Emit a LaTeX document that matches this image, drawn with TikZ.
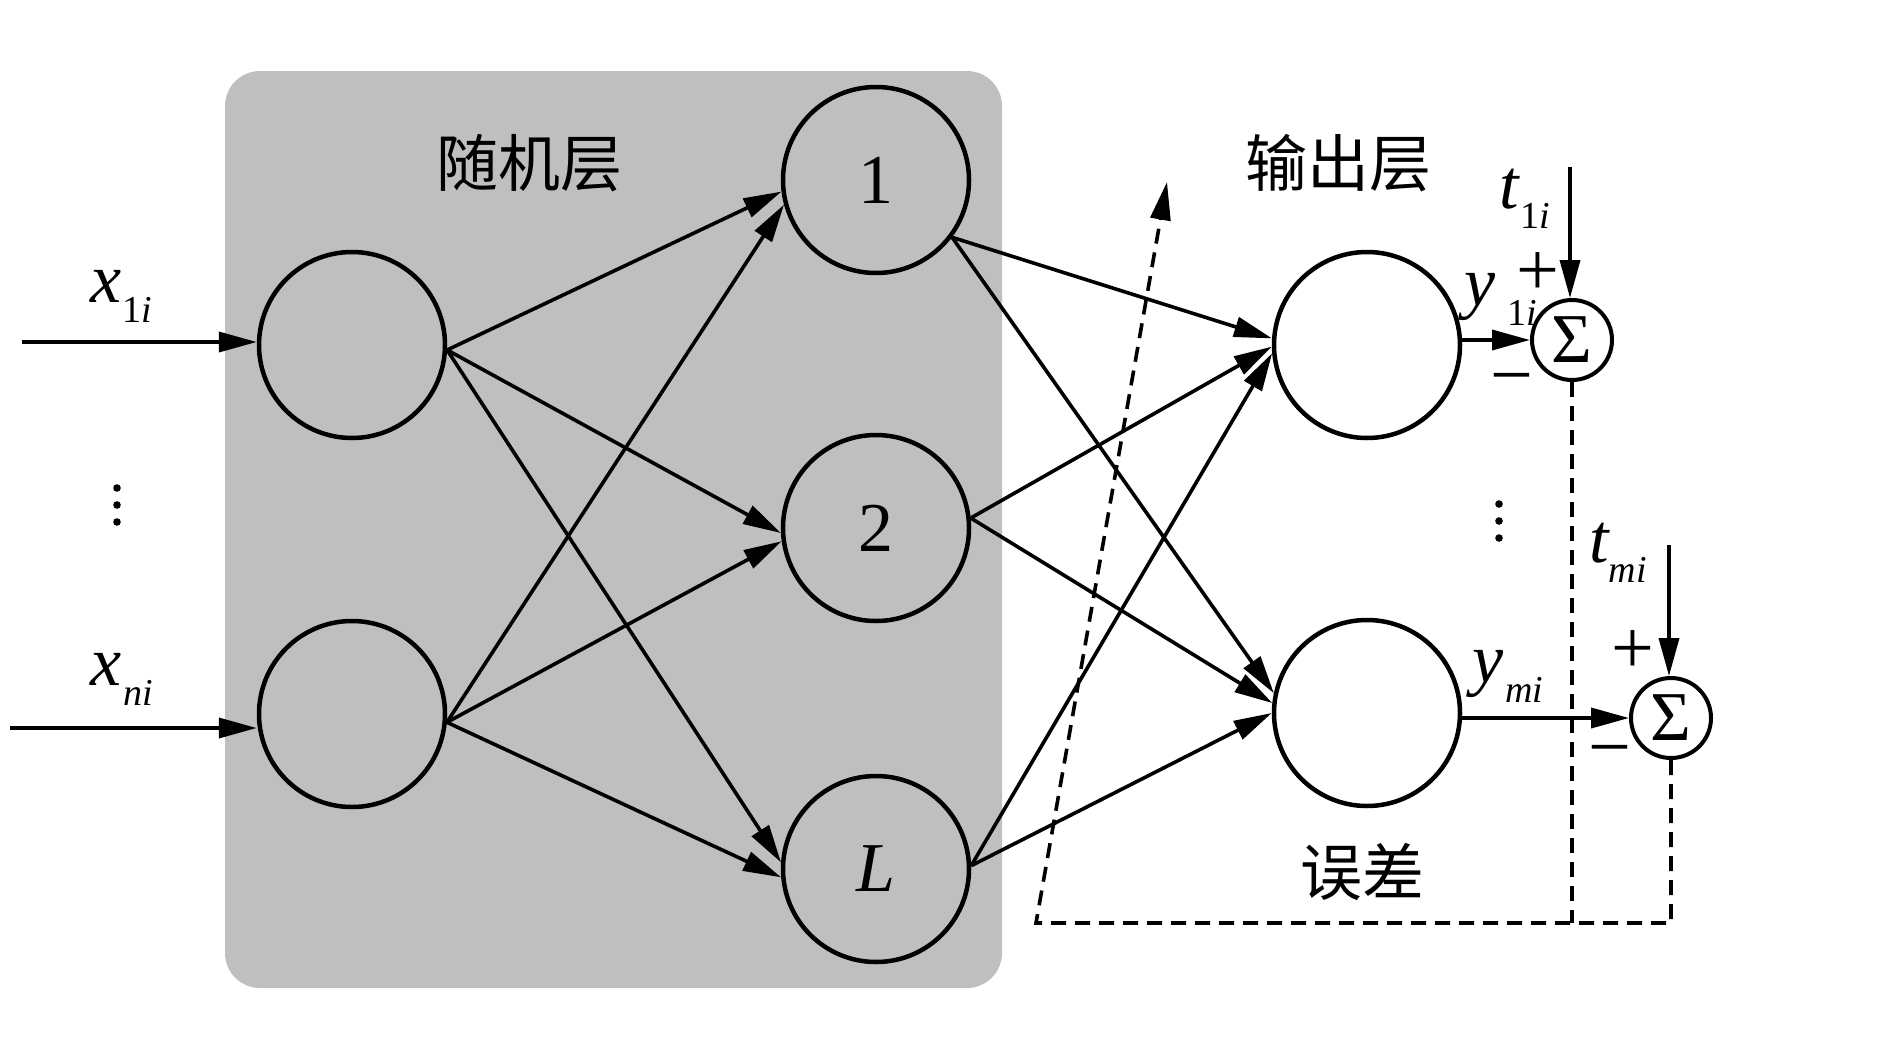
\documentclass[tikz,border=0pt]{standalone}
\usepackage{fontspec}
\setmainfont{Liberation Serif}
\newfontfamily\cjk{Noto Sans CJK SC}
\usetikzlibrary{arrows.meta}
\definecolor{boxgray}{RGB}{191,191,191}
\newcommand{\mylab}[3]{{\fontsize{70}{70}\selectfont\itshape #2}\kern#1\raisebox{-20pt}{\fontsize{38}{38}\selectfont #3}}
\begin{document}
\begin{tikzpicture}[x=1pt,y=-1pt,
  neuron/.style={circle,draw,line width=4.5pt,minimum size=186pt,inner sep=0pt,font=\fontsize{70}{70}\selectfont},
  sumnode/.style={circle,draw,line width=4pt,fill=white,minimum size=80pt,inner sep=0pt,font=\fontsize{70}{70}\selectfont},
  conn/.style={line width=3.6pt,-{Triangle[length=38pt,width=20pt]}},
  fb/.style={line width=3.6pt,dash pattern=on 15pt off 9pt},
  cjklab/.style={font=\cjk\fontsize{62}{62}\selectfont,inner sep=0pt},
  sgn/.style={font=\fontsize{76}{76}\selectfont,inner sep=0pt},
  lab/.style={anchor=base west,inner sep=0pt},
  dotm/.style={fill=black},
]
\useasboundingbox (0,0) rectangle (1890,1063);
\fill[boxgray,rounded corners=35pt] (225,71) rectangle (1002,988);

% neurons
\node[neuron] (in1) at (352,345) {};
\node[neuron] (inN) at (352,714) {};
\node[neuron] (h1) at (876,180) {1};
\node[neuron] (h2) at (876,528) {2};
\node[neuron] (hL) at (876,869) {\itshape L};
\node[neuron] (o1) at (1367,345) {};
\node[neuron] (o2) at (1367,713) {};
\node[sumnode] (s1) at (1572,340) {Σ};
\node[sumnode] (s2) at (1671,718) {Σ};

% layer titles
\node[cjklab] (tr) at (529,163) {随机层};
\node[cjklab] (to) at (1338,163) {输出层};
\node[cjklab] (te) at (1362,872) {误差};

% input arrows
\coordinate (x1s) at (22,342);
\coordinate (xns) at (10,728);
\draw[conn] (x1s) -- (x1s -| in1.west);
\draw[conn] (xns) -- (xns -| inN.west);
\node[lab] (lx1) at (90,302) {\mylab{1pt}{x}{1\textit{i}}};
\node[lab] (lxn) at (90,685) {\mylab{2pt}{x}{\textit{ni}}};

% input -> hidden
\draw[conn] (in1.-3) -- (h1.187);
\draw[conn] (in1.-3) -- (h2.183);
\draw[conn] (in1.-3) -- (hL.176);
\draw[conn] (inN.-5) -- (h1.195);
\draw[conn] (inN.-5) -- (h2.188);
\draw[conn] (inN.-5) -- (hL.185);

% hidden -> output
\draw[conn] (h1.-37) -- (o1.176);
\draw[conn] (h1.-37) -- (o2.168);
\draw[conn] (h2.6) -- (o1.181);
\draw[conn] (h2.6) -- (o2.174);
\draw[conn] (hL.2) -- (o1.185);
\draw[conn] (hL.2) -- (o2.180);

% output -> sums
\draw[conn] (s1.west -| o1.east) -- (s1.west);
\draw[conn] (s2.west -| o2.east) -- (s2.west);
\coordinate (t1s) at (1570,167);
\coordinate (tms) at (1669,545);
\draw[conn] (t1s) -- (t1s |- s1.north);
\draw[conn] (tms) -- (tms |- s2.north);

\node[lab] (ly1) at (1464,305) {\mylab{12pt}{y}{1\textit{i}}};
\node[lab] (lym) at (1472,682) {\mylab{2pt}{y}{\textit{mi}}};
\node[lab] (lt1) at (1499,208) {\mylab{2pt}{t}{1\textit{i}}};
\node[lab] (ltm) at (1589,562) {\mylab{0pt}{t}{\textit{mi}}};

\node[sgn] (p1) at (1538,274) {+};
\node[sgn] (m1) at (1512,387) {−};
\node[sgn] (p2) at (1633,652) {+};
\node[sgn] (m2) at (1610,759) {−};

% feedback
\coordinate (fbc) at (1036,923);
\coordinate (fbtip) at (1167,182);
\draw[fb] (s1.south) -- (s1.south |- fbc);
\draw[fb,-{Triangle[length=38pt,width=20pt]}] (s2.south) -- (s2.south |- fbc) -- (fbc) -- (fbtip);

% dots
\foreach \yy in {488,505,522} \fill[dotm] (117,\yy) circle (3.8pt);
\foreach \yy in {504,521,538} \fill[dotm] (1499,\yy) circle (3.8pt);
\end{tikzpicture}
\end{document}
